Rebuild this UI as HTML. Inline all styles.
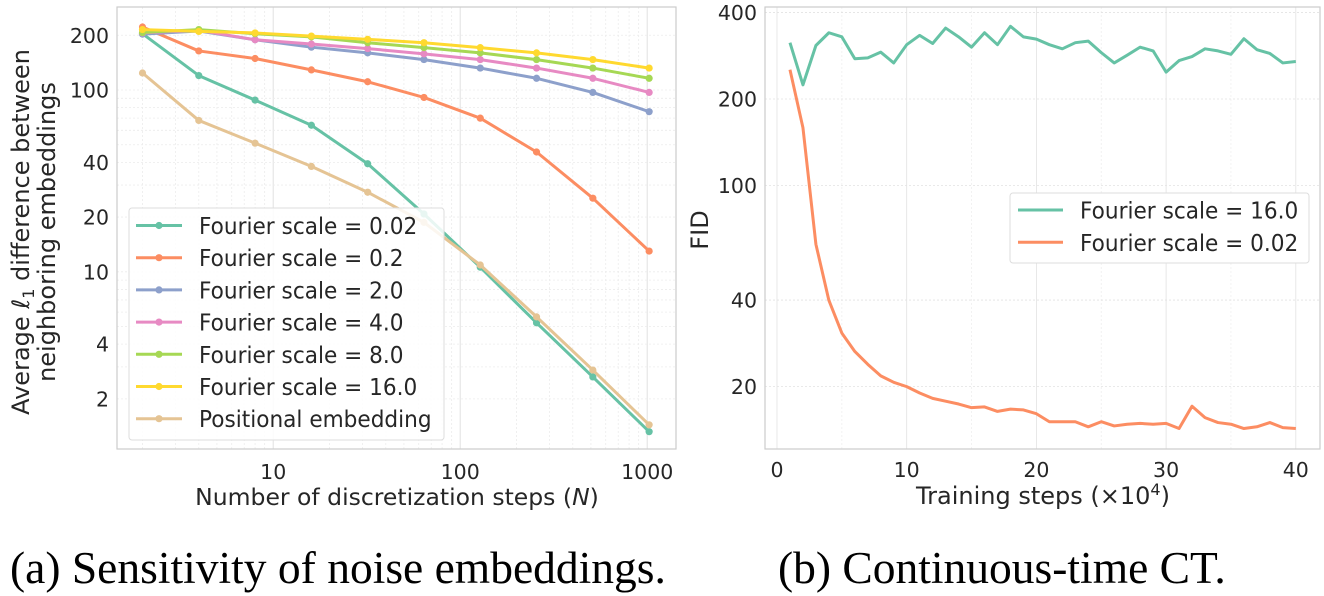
<!DOCTYPE html>
<html><head><meta charset="utf-8"><style>
body{margin:0;background:#fff;}
svg{display:block;font-family:"DejaVu Sans","Liberation Sans",sans-serif;}
.cap{font-family:"Liberation Serif",serif;font-size:45.5px;fill:#000;}
.tk{font-size:20.5px;fill:#262626;}
</style></head><body>
<svg id="s" width="1324" height="596" viewBox="0 0 1324 596">
<text class="cap" x="10" y="583">(a) Sensitivity of noise embeddings.</text>
<text class="cap" x="778" y="583">(b) Continuous-time CT.</text>
</svg>
<script>
// ---- Left chart data ----
const leftN = [2,4,8,16,32,64,128,256,512,1024];
const leftLabels = ["Fourier scale = 0.02","Fourier scale = 0.2","Fourier scale = 2.0","Fourier scale = 4.0","Fourier scale = 8.0","Fourier scale = 16.0","Positional embedding"];
const fs002 = [204,120,88,64,39.3,20.8,10.6,5.24,2.64,1.32];
const fs02 = [222,164,149,129,111,91,70,45.6,25.4,13.0];
const fs2 = [203,211,189,172,160,147,132,116,97,76];
const fs4 = [206,213,189,179,169,158,147,132,116,97];
const fs8 = [207,215,204,196,182,171,160,147,132,116];
const fs16 = [215,210,206,198,190,182,171,160,147,132];
const posEmb = [124,68,51,38,27.4,18.7,10.9,5.65,2.88,1.44];
const leftXTicks = [10,100,1000];
const leftYTicks = [2,4,10,20,40,100,200];
// ---- Right chart data ----
const rightSteps = [1,2,3,4,5,6,7,8,9,10,11,12,13,14,15,16,17,18,19,20,21,22,23,24,25,26,27,28,29,30,31,32,33,34,35,36,37,38,39,40];
const fid16 = [314,224,307,340,329,276,278,291,267,309,333,312,353,329,303,340,309,358,329,323,309,299,314,318,290,267,284,303,294,248,272,281,299,294,286,324,297,288,267,270];
const fid002 = [253,159,62.5,39.9,30.7,26.5,23.9,21.8,20.7,20.0,19.0,18.2,17.8,17.4,16.9,17.0,16.4,16.7,16.6,16.1,15.1,15.1,15.1,14.5,15.1,14.6,14.8,14.9,14.8,14.9,14.3,17.1,15.6,15.0,14.8,14.3,14.5,15.0,14.4,14.3];
const rightLabels = ["Fourier scale = 16.0","Fourier scale = 0.02"];
const rightXTicks = [0,10,20,30,40];
const rightYTicks = [20,40,100,200,400];

const colors = ["#66c2a5","#fc8d62","#8da0cb","#e78ac3","#a6d854","#ffd92f","#e5c494"];
const NS="http://www.w3.org/2000/svg";
const svg=document.getElementById('s');
function mk(tag,attrs,parent){const e=document.createElementNS(NS,tag);for(const k in attrs)e.setAttribute(k,attrs[k]);(parent||svg).appendChild(e);return e;}
function squeeze(t,f){const w=t.getComputedTextLength();t.setAttribute('textLength',(w*f).toFixed(1));t.setAttribute('lengthAdjust','spacingAndGlyphs');}

// Left axes
const L={x0:117,x1:676,y0:7,y1:449};
const lx=n=>142.5+187*Math.log10(n/2);
const ly=v=>90-181.8*Math.log10(v/100);
const gL=mk('g',{});


for(const d of [1,10,100,1000])for(let m=1;m<10;m++){const v=d*m;const x=lx(v);if(x<L.x0||x>L.x1)continue;
 const ln=mk('line',{x1:x,x2:x,y1:L.y0,y2:L.y1,stroke:m==1?'#e2e2e2':'#ececec','stroke-width':m==1?1:0.8,'stroke-dasharray':m==1?'':'2,2'},gL);
 }
for(const d of [1,10,100])for(let m=1;m<10;m++){const v=d*m;const y=ly(v);if(y<L.y0||y>L.y1)continue;
 const ln=mk('line',{x1:L.x0,x2:L.x1,y1:y,y2:y,stroke:'#ececec','stroke-width':0.8,'stroke-dasharray':'2,2'},gL);
 }
for(const t of leftXTicks){const tx=mk('text',{x:lx(t),y:479,'text-anchor':'middle',class:'tk'},gL);tx.textContent=t;
 }
for(const t of leftYTicks){const tx=mk('text',{x:109,y:ly(t)+7.5,'text-anchor':'end',class:'tk'},gL);tx.textContent=t;
 }
mk('rect',{x:L.x0,y:L.y0,width:L.x1-L.x0,height:L.y1-L.y0,fill:'none',stroke:'#cccccc','stroke-width':1.2},gL);
const leftSeries=[fs002,fs02,fs2,fs4,fs8,fs16,posEmb];
leftSeries.forEach((s,i)=>{
 const g=mk('g',{},gL);
 
 
 mk('polyline',{points:s.map((v,j)=>lx(leftN[j])+','+ly(v)).join(' '),fill:'none',stroke:colors[i],'stroke-width':3,'stroke-linejoin':'round'},g);
 s.forEach((v,j)=>{const c=mk('circle',{cx:lx(leftN[j]),cy:ly(v),r:3.6,fill:colors[i]},g);
  });
});
// left legend
const lg=mk('g',{},gL);


mk('rect',{x:129,y:208,width:315,height:232,rx:3,fill:'rgba(255,255,255,0.85)',stroke:'#dddddd'},lg);
leftLabels.forEach((lab,i)=>{const y=225.5+32.2*i;
 const e=mk('g',{},lg);
 mk('line',{x1:136,x2:182,y1:y,y2:y,stroke:colors[i],'stroke-width':3},e);
 mk('circle',{cx:159,cy:y,r:3.6,fill:colors[i]},e);
 const t=mk('text',{x:199,y:y+8.5,'font-size':'23px',fill:'#262626'},e);t.textContent=lab;squeeze(t,0.94);});
const xl=mk('text',{x:397,y:505,'text-anchor':'middle','font-size':'23.5px',fill:'#262626'},gL);

xl.innerHTML='Number of discretization steps (<tspan font-style="italic">N</tspan>)';
const yl=mk('text',{transform:'translate(29,232) rotate(-90)','text-anchor':'middle','font-size':'24px',fill:'#262626'},gL);

yl.innerHTML='Average <tspan font-style="italic">ℓ</tspan><tspan font-size="16px" dy="5">1</tspan><tspan dy="-5"> difference between</tspan>';
const yl2=mk('text',{transform:'translate(55,232) rotate(-90)','text-anchor':'middle','font-size':'24px',fill:'#262626'},gL);

yl2.textContent='neighboring embeddings';

// Right axes
const R={x0:765,x1:1320,y0:7,y1:449};
const rx=s=>777+12.97*s;
const ry=v=>185.6-287.6*Math.log10(v/100);
const gR=mk('g',{});


for(let s=0;s<=40;s+=5){const x=rx(s);const ln=mk('line',{x1:x,x2:x,y1:R.y0,y2:R.y1,stroke:s%10==0?'#e2e2e2':'#efefef','stroke-width':0.8,'stroke-dasharray':s%10==0?'':'2,2'},gR);
 }
for(const t of rightYTicks){const ln=mk('line',{x1:R.x0,x2:R.x1,y1:ry(t),y2:ry(t),stroke:'#e2e2e2','stroke-width':0.8,'stroke-dasharray':'2,2'},gR);
 
 const tx=mk('text',{x:757,y:ry(t)+7.5,'text-anchor':'end',class:'tk'},gR);tx.textContent=t;
 }
for(const t of rightXTicks){const tx=mk('text',{x:rx(t),y:477,'text-anchor':'middle',class:'tk'},gR);tx.textContent=t;
 }
mk('rect',{x:R.x0,y:R.y0,width:R.x1-R.x0,height:R.y1-R.y0,fill:'none',stroke:'#cccccc','stroke-width':1.2},gR);
[fid16,fid002].forEach((s,i)=>{
 const p=mk('polyline',{points:s.map((v,j)=>rx(rightSteps[j])+','+ry(v)).join(' '),fill:'none',stroke:colors[i],'stroke-width':3,'stroke-linejoin':'round'},gR);
 
 
});
const rg=mk('g',{},gR);


mk('rect',{x:1010,y:193,width:299,height:70,rx:3,fill:'#fff',stroke:'#dddddd'},rg);
rightLabels.forEach((lab,i)=>{const y=210+32.3*i;
 const e=mk('g',{},rg);
 mk('line',{x1:1018,x2:1063,y1:y,y2:y,stroke:colors[i],'stroke-width':3},e);
 const t=mk('text',{x:1080,y:y+8.5,'font-size':'23px',fill:'#262626'},e);t.textContent=lab;squeeze(t,0.94);});
const rxl=mk('text',{x:1043,y:504,'text-anchor':'middle','font-size':'24px',fill:'#262626'},gR);

rxl.innerHTML='Training steps (×10<tspan font-size="16px" dy="-9">4</tspan><tspan dy="9">)</tspan>';
const ryl=mk('text',{transform:'translate(708,230) rotate(-90)','text-anchor':'middle','font-size':'24px',fill:'#262626'},gR);

ryl.textContent='FID';
</script>
</body></html>
